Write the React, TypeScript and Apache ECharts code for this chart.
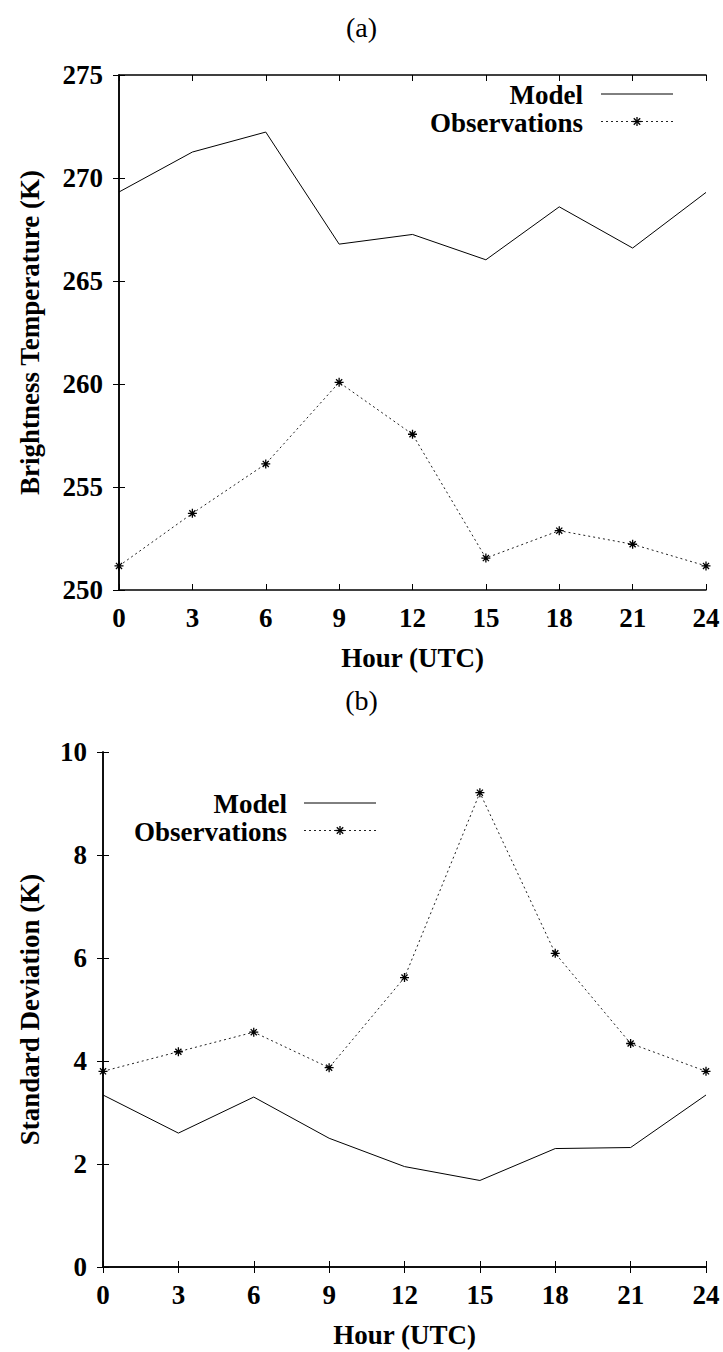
import React, { useEffect, useRef } from "react";
import * as echarts from "echarts";

const hours = [0, 3, 6, 9, 12, 15, 18, 21, 24];
const tbModel = [269.32, 271.26, 272.23, 266.79, 267.26, 266.03, 268.6, 266.6, 269.3];
const tbObs = [251.17, 253.72, 256.12, 260.08, 257.56, 251.55, 252.88, 252.22, 251.17];
const sdModel = [3.34, 2.6, 3.3, 2.5, 1.95, 1.68, 2.3, 2.32, 3.34];
const sdObs = [3.8, 4.18, 4.56, 3.87, 5.62, 9.21, 6.09, 4.34, 3.8];
const seriesNames = ["Model", "Observations"];
const panelTitles = ["(a)", "(b)"];
const yNames = ["Brightness Temperature (K)", "Standard Deviation (K)"];
const xName = "Hour (UTC)";

const FONT = "'Liberation Serif', 'Times New Roman', serif";
const STAR = "path://M5,0L5,10M0,5L10,5M1.6,1.6L8.4,8.4M8.4,1.6L1.6,8.4";

export default function App() {
  const ref = useRef<HTMLDivElement>(null);
  useEffect(() => {
    document.body.style.margin = "0";
    const chart = echarts.init(ref.current!, null, { renderer: "svg" });
    const lab = { fontFamily: FONT, fontWeight: "bold" as const, fontSize: 27, color: "#000" };
    const axisLine = { show: true, lineStyle: { color: "#000", width: 1.5 } };
    const tick = { show: true, inside: true, length: 6, lineStyle: { color: "#000", width: 1 } };
    const grids = [
      { left: 119, top: 75, width: 587, height: 515 },
      { left: 103, top: 752, width: 603, height: 515 },
    ];
    const yRange = [
      { min: 250, max: 275, interval: 5 },
      { min: 0, max: 10, interval: 2 },
    ];
    const xAxis: any[] = [];
    const yAxis: any[] = [];
    [0, 1].forEach((g) => {
      xAxis.push({
        type: "value", gridIndex: g, min: 0, max: 24, interval: 3, position: "bottom",
        axisLine, axisTick: tick, splitLine: { show: false },
        axisLabel: { ...lab, margin: 14 },
        name: xName, nameLocation: "middle", nameGap: 54, nameTextStyle: lab,
      });
      xAxis.push({
        type: "value", gridIndex: g, min: 0, max: 24, interval: 3, position: "top",
        axisLine, axisTick: tick, splitLine: { show: false }, axisLabel: { show: false },
      });
      yAxis.push({
        type: "value", gridIndex: g, ...yRange[g], position: "left",
        axisLine, axisTick: tick, splitLine: { show: false },
        axisLabel: { ...lab, margin: 16 },
        name: yNames[g], nameLocation: "middle", nameGap: g === 0 ? 76 : 60, nameTextStyle: lab,
      });
      yAxis.push({
        type: "value", gridIndex: g, ...yRange[g], position: "right",
        axisLine, axisTick: tick, splitLine: { show: false }, axisLabel: { show: false },
      });
    });
    const mk = (vals: number[]) => hours.map((h, i) => [h, vals[i]]);
    const modelStyle = { type: "line", showSymbol: false, symbol: "none", lineStyle: { color: "#000", width: 1 }, clip: false };
    const obsStyle = {
      type: "line", symbol: STAR, symbolSize: 9, showSymbol: true, clip: false,
      lineStyle: { color: "#222", width: 1, type: [2, 3] },
      itemStyle: { color: "#000", borderColor: "#000", borderWidth: 1.3 },
    };
    const series: any[] = [
      { ...modelStyle, name: seriesNames[0], xAxisIndex: 0, yAxisIndex: 0, data: mk(tbModel) },
      { ...obsStyle, name: seriesNames[1], xAxisIndex: 0, yAxisIndex: 0, data: mk(tbObs) },
      { ...modelStyle, name: seriesNames[0], xAxisIndex: 2, yAxisIndex: 2, data: mk(sdModel) },
      { ...obsStyle, name: seriesNames[1], xAxisIndex: 2, yAxisIndex: 2, data: mk(sdObs) },
    ];
    const legendAt = (tx: number, ly1: number, ly2: number, lx0: number, lx1: number) => {
      const sx = (lx0 + lx1) / 2;
      const s = 4.5;
      const c = ly2 - 1;
      return [
        { type: "text", x: tx, y: ly1, style: { text: seriesNames[0], fill: "#000", font: `bold 27px ${FONT}`, textAlign: "right", textVerticalAlign: "middle" } },
        { type: "line", shape: { x1: lx0, y1: ly1 - 1, x2: lx1, y2: ly1 - 1 }, style: { stroke: "#000", lineWidth: 1 } },
        { type: "text", x: tx, y: ly2, style: { text: seriesNames[1], fill: "#000", font: `bold 27px ${FONT}`, textAlign: "right", textVerticalAlign: "middle" } },
        { type: "line", shape: { x1: lx0, y1: c, x2: lx1, y2: c }, style: { stroke: "#222", lineWidth: 1, lineDash: [2, 3] } },
        { type: "line", shape: { x1: sx - s, y1: c, x2: sx + s, y2: c }, style: { stroke: "#000", lineWidth: 1.3 } },
        { type: "line", shape: { x1: sx, y1: c - s, x2: sx, y2: c + s }, style: { stroke: "#000", lineWidth: 1.3 } },
        { type: "line", shape: { x1: sx - 3.2, y1: c - 3.2, x2: sx + 3.2, y2: c + 3.2 }, style: { stroke: "#000", lineWidth: 1.3 } },
        { type: "line", shape: { x1: sx + 3.2, y1: c - 3.2, x2: sx - 3.2, y2: c + 3.2 }, style: { stroke: "#000", lineWidth: 1.3 } },
      ];
    };
    const titleStyle = { fontFamily: FONT, fontWeight: "normal" as const, fontSize: 28, color: "#000" };
    chart.setOption({
      animation: false,
      backgroundColor: "#fff",
      title: [
        { text: panelTitles[0], left: "center", top: 8, padding: 5, textStyle: titleStyle },
        { text: panelTitles[1], left: "center", top: 681, padding: 5, textStyle: titleStyle },
      ],
      grid: grids,
      xAxis,
      yAxis,
      series,
      graphic: [...legendAt(583, 95, 122.5, 601, 673), ...legendAt(287, 804, 831.5, 304, 376)],
    });
    return () => chart.dispose();
  }, []);
  return <div ref={ref} style={{ width: 723, height: 1352 }} />;
}
